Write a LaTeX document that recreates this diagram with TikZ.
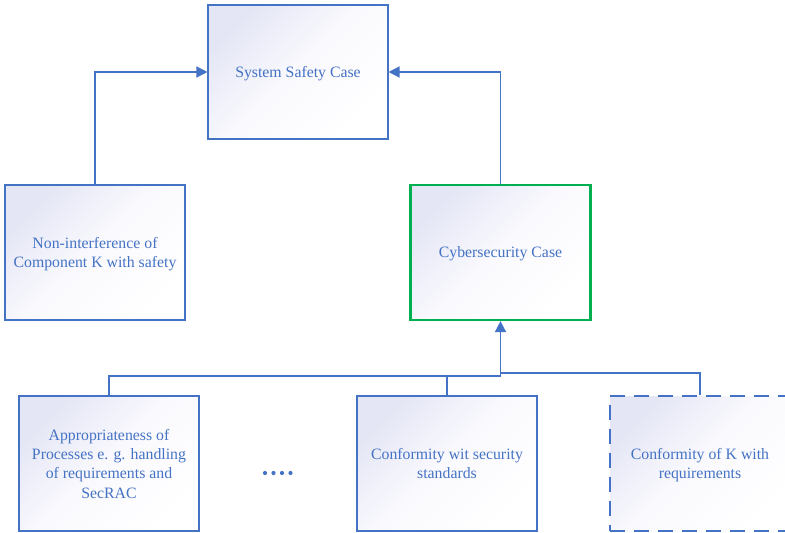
\documentclass[tikz,border=0pt]{standalone}
\usepackage{fontspec}
\setmainfont{Liberation Serif}
\usetikzlibrary{arrows.meta}
\definecolor{lineblue}{HTML}{4472C4}
\definecolor{boxgreen}{HTML}{00B050}
\definecolor{lavender}{RGB}{228,230,245}
\definecolor{paler}{RGB}{250,250,254}
\tikzset{
  casebox/.style={rectangle, draw=lineblue, line width=1.1pt,
    minimum width=180pt, minimum height=135pt, inner sep=4pt,
    top color=lavender, bottom color=white, middle color=paler, shading angle=45,
    text=lineblue, align=center, text depth=0pt,
    font=\fontsize{15.8pt}{19.3pt}\selectfont},
  securitybox/.style={casebox, draw=boxgreen, line width=2.2pt},
  openbox/.style={casebox, dash pattern=on 15pt off 9pt},
  link/.style={draw=lineblue, line width=1.1pt},
  mainlink/.style={draw=lineblue, line width=1.6pt},
  tip/.style={-{Triangle[length=11pt,width=11pt]}}
}
\begin{document}
\begin{tikzpicture}[x=1pt, y=-1pt]
  \useasboundingbox (0,0) rectangle (785,533);

  % upper level
  \node[casebox, minimum height=134pt] (ssc) at (298,72) {System Safety Case};
  \node[casebox] (nonint) at (95,252.5) {Non-interference of\\Component K with safety};
  \node[securitybox] (cyber) at (500.5,252.5) {Cybersecurity Case};

  % supporting arguments
  \node[casebox] (approp) at (109,463.5) {Appropriateness of\\Processes e. g. handling\\of requirements and\\SecRAC};
  \node[casebox] (confwit) at (447,463.5) {Conformity wit security\\standards};
  \node[openbox] (confk) at (700,463.5) {Conformity of K with\\requirements};

  % ellipsis between the argument boxes
  \foreach \dx in {265,273.5,282,290.5}
    \fill[lineblue] (\dx,473) circle (2.1pt);

  % links to the system safety case
  \draw[link, line width=1.4pt, tip] (nonint.north) |- (ssc.west);
  \draw[link, line width=1.4pt, tip] (cyber.north) |- (ssc.east);

  % links to the cybersecurity case
  \coordinate (join) at (500.5,376);
  \coordinate (joink) at (500.5,373);
  \draw[mainlink] (approp.north) |- (join);
  \draw[link] (confwit.north) -- (confwit.north |- join);
  \draw[link] (confk.north) |- (joink);
  \draw[mainlink, tip] (join) -- (cyber.south);
\end{tikzpicture}
\end{document}
